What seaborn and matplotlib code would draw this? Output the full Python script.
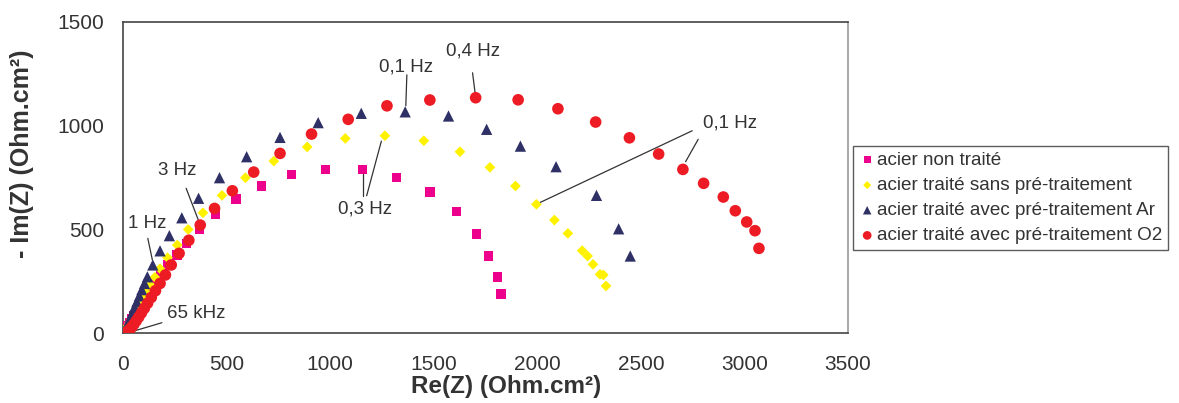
import matplotlib
matplotlib.use("Agg")
import matplotlib.pyplot as plt
import seaborn as sns
import pandas as pd

# ---- data ----
labels = ["acier non traité",
          "acier traité sans pré-traitement",
          "acier traité avec pré-traitement Ar",
          "acier traité avec pré-traitement O2"]

re_non = [5, 10, 17, 25, 34, 44, 55, 67, 81, 97, 115, 135, 158, 185, 216, 261, 308, 371,
          447, 547, 670, 814, 979, 1156, 1322, 1482, 1611, 1708, 1766, 1809, 1825]
im_non = [4, 12, 23, 36, 51, 68, 87, 108, 132, 158, 187, 218, 252, 290, 329, 377, 433, 500,
          574, 646, 710, 765, 789, 789, 749, 681, 587, 479, 373, 272, 189]

re_sans = [4, 9, 16, 24, 33, 43, 54, 66, 80, 95, 113, 133, 155, 180, 216, 263, 316, 387,
           479, 592, 729, 890, 1074, 1265, 1453, 1627, 1772, 1895, 1996, 2083, 2148, 2217,
           2243, 2269, 2303, 2319, 2332]
im_sans = [3, 9, 20, 34, 50, 68, 88, 111, 137, 165, 197, 232, 270, 311, 364, 425, 500, 580,
           664, 749, 829, 897, 938, 951, 927, 874, 799, 709, 621, 545, 481, 398,
           372, 332, 284, 281, 228]

re_ar = [4, 9, 15, 22, 30, 38, 47, 57, 68, 80, 92, 105, 119, 145, 180, 225, 285, 366, 467,
         598, 759, 943, 1151, 1363, 1572, 1756, 1919, 2091, 2286, 2393, 2449]
im_ar = [4, 12, 25, 40, 58, 78, 100, 125, 152, 180, 210, 240, 272, 329, 397, 470, 556, 650, 749,
         850, 943, 1014, 1059, 1066, 1046, 982, 901, 802, 664, 503, 372]

re_o2 = [14, 20, 27, 35, 44, 54, 65, 77, 90, 104, 120, 138, 158, 180, 206, 234, 272, 319, 374,
         443, 529, 632, 759, 911, 1088, 1275, 1482, 1703, 1908, 2100, 2282, 2445, 2586,
         2703, 2803, 2898, 2956, 3011, 3051, 3070]
im_o2 = [2, 6, 12, 20, 31, 44, 60, 78, 98, 120, 145, 173, 205, 240, 281, 329, 385, 448, 521,
         601, 686, 776, 866, 959, 1030, 1095, 1123, 1134, 1124, 1081, 1017, 941, 863,
         789, 722, 656, 590, 536, 494, 409]

x_ticks = [0, 500, 1000, 1500, 2000, 2500, 3000, 3500]
y_ticks = [0, 500, 1000, 1500]

colors = ["#EC008C", "#FFF200", "#2E3066", "#ED1C24"]
markers = ["s", "D", "^", "o"]
sizes = [46, 30, 66, 70]

series = [(re_non, im_non), (re_sans, im_sans), (re_ar, im_ar), (re_o2, im_o2)]

# ---- plot ----
sns.set_style("white")
plt.rcParams["font.family"] = ["Liberation Sans", "DejaVu Sans"]
txt = "#333333"

fig = plt.figure(figsize=(11.79, 4.03), dpi=100)
ax = fig.add_axes([0.1041, 0.1729, 0.6152, 0.7733])

for (xs, ys), lab, c, m, s in zip(series, labels, colors, markers, sizes):
    df = pd.DataFrame({"Re": xs, "Im": ys})
    sns.scatterplot(data=df, x="Re", y="Im", ax=ax, color=c, marker=m, s=s,
                    edgecolor="none", linewidth=0, label=lab, zorder=3)

ax.set_xlim(0, 3500)
ax.set_ylim(0, 1500)
ax.set_xticks(x_ticks)
ax.set_yticks(y_ticks)
ax.tick_params(axis="both", direction="out", length=4.5, width=1, colors="#555555",
               labelsize=15, labelcolor=txt)
ax.tick_params(axis="x", pad=11)
ax.tick_params(axis="y", pad=9)
for side in ["left", "bottom", "top"]:
    ax.spines[side].set_color("#444444")
    ax.spines[side].set_linewidth(1.2)
ax.spines["right"].set_color("#999999")
ax.spines["right"].set_linewidth(1.2)
ax.set_xlabel("Re(Z) (Ohm.cm²)", fontsize=17.5, fontweight="bold", color=txt)
ax.set_ylabel("- Im(Z) (Ohm.cm²)", fontsize=18, fontweight="bold", color=txt)
ax.xaxis.set_label_coords(0.528, -0.133)
ax.yaxis.set_label_coords(-0.122, 0.577)

# ---- annotations ----
ann_kw = dict(fontsize=13.5, color=txt, ha="center", va="center")
line_kw = dict(color="#333333", lw=0.9)

ax.text(1690, 1358, "0,4 Hz", **ann_kw)
ax.plot([1688, 1701], [1254, 1152], **line_kw)

ax.text(1366, 1281, "0,1 Hz", **ann_kw)
ax.plot([1371, 1366], [1244, 1095], **line_kw)

ax.text(263, 786, "3 Hz", **ann_kw)
ax.plot([306, 371], [698, 529], **line_kw)

ax.text(118, 531, "1 Hz", **ann_kw)
ax.plot([121, 143], [457, 353], **line_kw)

ax.text(355, 93, "65 kHz", **ann_kw)
ax.plot([189, 27], [51, 3], **line_kw)

ax.text(1167, 598, "0,3 Hz", **ann_kw)
ax.plot([1159, 1159], [662, 770], **line_kw)
ax.plot([1177, 1248], [662, 925], **line_kw)

ax.text(2928, 1010, "0,1 Hz", **ann_kw)
ax.plot([2748, 2006], [975, 626], **line_kw)
ax.plot([2777, 2716], [934, 826], **line_kw)

# ---- legend ----
leg = ax.legend(loc="upper left", bbox_to_anchor=(0.7235, 0.6377),
                bbox_transform=fig.transFigure, borderaxespad=0, frameon=True,
                fancybox=False, fontsize=13.6, markerscale=0.75, handletextpad=0.05,
                handlelength=0.9, borderpad=0.3, labelspacing=0.42)
leg.get_frame().set_edgecolor("#333333")
leg.get_frame().set_linewidth(1.0)
for t in leg.get_texts():
    t.set_color(txt)

fig.savefig("out.png", dpi=100)
